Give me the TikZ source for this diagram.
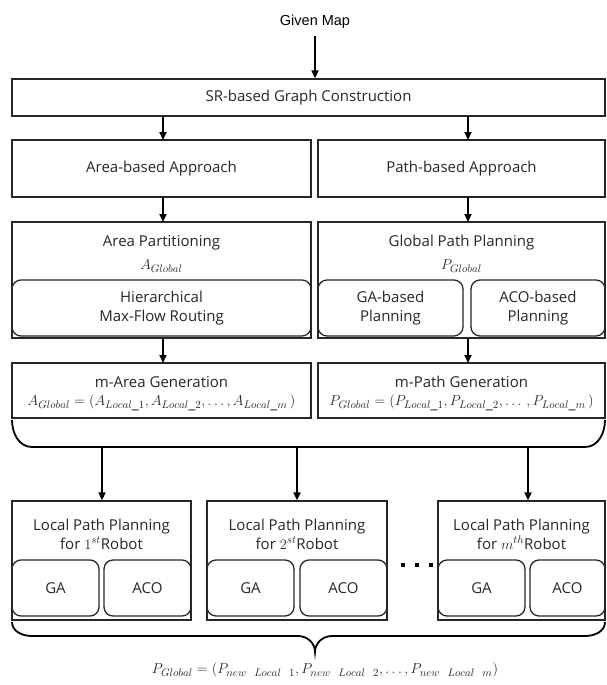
\documentclass[tikz,border=0pt]{standalone}
\usepackage{fontspec}
\setmainfont{Open Sans}
\newfontfamily\mapfont{Liberation Sans}
\usetikzlibrary{arrows.meta}
\begin{document}
\begin{tikzpicture}[x=1pt,y=-1pt,
  box/.style={draw=black!85, line width=1.3pt, inner sep=0pt},
  rbox/.style={draw=black!85, line width=1.3pt, inner sep=0pt, rounded corners=9pt},
  txt/.style={inner sep=0pt, font=\fontsize{15}{19}\selectfont, text=black!85, align=center},
  mth/.style={inner sep=0pt, font=\fontsize{15.5}{18}\selectfont, text=black!85},
  arr/.style={-{Triangle[length=8pt,width=7pt]}, line width=1.8pt, black},
  brk/.style={line width=1.8pt, black},
  dot/.style={fill=black, minimum size=4pt, inner sep=0pt}]
\useasboundingbox (0,0) rectangle (607,685);

% top
\node[inner sep=0pt, font=\mapfont\fontsize{14.5}{17}\selectfont] (map) at (315,22) {Given Map};
\node[box, minimum width=593pt, minimum height=37pt] (sr) at (308.5,97.5) {};
\node[txt] (srt) at (308.5,97.5) {SR-based Graph Construction};

% approaches
\node[box, minimum width=299pt, minimum height=57pt] (ab) at (161.5,168.5) {};
\node[txt] (abt) at (161.5,168.5) {Area-based Approach};
\node[box, minimum width=287pt, minimum height=57pt] (pb) at (461.5,168.5) {};
\node[txt] (pbt) at (461.5,168.5) {Path-based Approach};

% planning
\node[box, minimum width=299pt, minimum height=116pt] (ap) at (161.5,280) {};
\node[txt] (apt) at (161.5,243) {Area Partitioning};
\node[mth] (apm) at (161.5,266) {$A_{Global}$};
\node[rbox, minimum width=299pt, minimum height=56pt] (hm) at (161.5,308) {};
\node[txt] (hmt) at (161.5,308.5) {Hierarchical\\Max-Flow Routing};

\node[box, minimum width=287pt, minimum height=116pt] (gp) at (461.5,280) {};
\node[txt] (gpt) at (461.5,243) {Global Path Planning};
\node[mth] (gpm) at (461.5,266) {$P_{Global}$};
\node[rbox, minimum width=145pt, minimum height=56pt] (gab) at (390.5,308) {};
\node[txt] (gabt) at (390.5,308.5) {GA-based\\Planning};
\node[rbox, minimum width=134pt, minimum height=56pt] (acob) at (538,308) {};
\node[txt] (acobt) at (538,308.5) {ACO-based\\Planning};

% generation
\node[box, minimum width=299pt, minimum height=55pt] (ma) at (161.5,390.5) {};
\node[txt] (mat) at (161.5,382) {m-Area Generation};
\node[mth] (mam) at (161.5,403) {$A_{Global}=(A_{Local\_1},A_{Local\_2},\ldots,A_{Local\_m}\,)$};
\node[box, minimum width=287pt, minimum height=55pt] (mp) at (461.5,390.5) {};
\node[txt] (mpt) at (461.5,382) {m-Path Generation};
\node[mth] (mpm) at (461.5,403) {$P_{Global}=(P_{Local\_1},P_{Local\_2},\ldots\,,P_{Local\_m}\,)$};

% middle bracket
\coordinate (mbl) at (12,420);
\coordinate (mbr) at (605,420);
\coordinate (b1) at (102,447);
\coordinate (b2) at (297,447);
\coordinate (b3) at (528,447);
\draw[brk] (mbl) to[out=-90,in=180] (32,447) -- (585,447) to[out=0,in=-90] (mbr);

% local boxes
\node[box, minimum width=179pt, minimum height=119pt] (l1) at (101.5,560.5) {};
\node[txt] (l1t) at (101.5,534) {Local Path Planning\\for $1^{st}$Robot};
\node[rbox, minimum width=87pt, minimum height=56pt] (ga1) at (55.5,588) {};
\node[txt] (ga1t) at (55.5,588) {GA};
\node[rbox, minimum width=87pt, minimum height=56pt] (aco1) at (147.5,588) {};
\node[txt] (aco1t) at (147.5,588) {ACO};

\node[box, minimum width=180pt, minimum height=119pt] (l2) at (297,560.5) {};
\node[txt] (l2t) at (297,534) {Local Path Planning\\for $2^{st}$Robot};
\node[rbox, minimum width=87pt, minimum height=56pt] (ga2) at (250.5,588) {};
\node[txt] (ga2t) at (250.5,588) {GA};
\node[rbox, minimum width=87pt, minimum height=56pt] (aco2) at (343.5,588) {};
\node[txt] (aco2t) at (343.5,588) {ACO};

\node[box, minimum width=167pt, minimum height=119pt] (l3) at (521.5,560.5) {};
\node[txt] (l3t) at (521.5,534) {Local Path Planning\\for $m^{th}$Robot};
\node[rbox, minimum width=87pt, minimum height=56pt] (ga3) at (481.5,588) {};
\node[txt] (ga3t) at (481.5,588) {GA};
\node[rbox, minimum width=75pt, minimum height=56pt] (aco3) at (567.5,588) {};
\node[txt] (aco3t) at (567.5,588) {ACO};

\node[dot] (d1) at (403,565) {};
\node[dot] (d2) at (417,565) {};
\node[dot] (d3) at (431,565) {};

% bottom brace
\coordinate (bbl) at (12,622);
\coordinate (bbr) at (605,622);
\coordinate (tip) at (315,652);
\draw[brk] (bbl) to[out=-90,in=180] (32,636) -- (298,636) to[out=0,in=90] (tip)
  to[out=90,in=180] (332,636) -- (585,636) to[out=0,in=-90] (bbr);
\node[mth] (res) at (325,670) {$P_{Global}=(P_{new\ \ Local\ \ 1},P_{new\ \ Local\ \ 2},\ldots,P_{new\ \ Local\ \ m})$};

% arrows
\draw[arr] (map.south |- 0,36) -- (map.south |- sr.north);
\draw[arr] (163,116) -- (163,140);
\draw[arr] (468,116) -- (468,140);
\draw[arr] (163,197) -- (163,222);
\draw[arr] (468,197) -- (468,222);
\draw[arr] (163,338) -- (163,363);
\draw[arr] (468,338) -- (468,363);
\draw[arr] (b1) -- (b1 |- l1.north);
\draw[arr] (b2) -- (b2 |- l2.north);
\draw[arr] (b3) -- (b3 |- l3.north);
\end{tikzpicture}
\end{document}
